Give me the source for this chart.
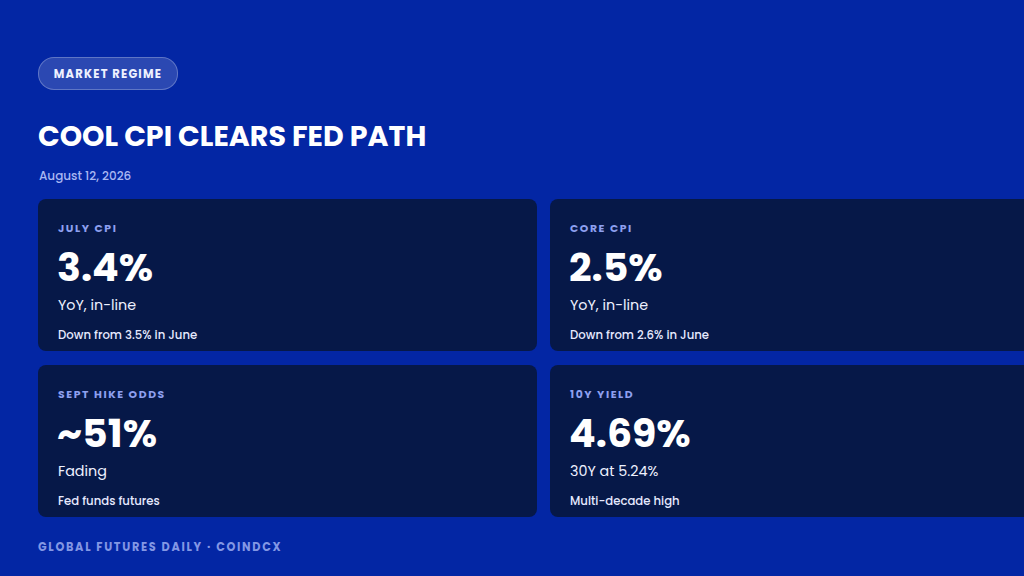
<!DOCTYPE html>
<html>
<head>
<meta charset="utf-8">
<script src="https://cdn.jsdelivr.net/npm/chart.js@4"></script>
<style>
  html, body { margin:0; padding:0; }
  body { width:1024px; height:576px; overflow:hidden; background:#0326a4; font-family: Poppins, Inter, "Noto Sans", sans-serif; color:#fff; position:relative; }
  .pill { position:absolute; left:38px; top:57px; width:138px; height:30px; border-radius:16px; background:rgba(255,255,255,0.16); border:1px solid rgba(255,255,255,0.25); display:flex; align-items:center; justify-content:center; font-size:11.5px; font-weight:700; letter-spacing:1.2px; color:#eef1ff; padding-top:1px; box-sizing:content-box; }
  .title { position:absolute; left:38px; top:118px; font-size:28.5px; font-weight:700; letter-spacing:0px; line-height:36px; white-space:nowrap; }
  .date { position:absolute; left:39px; top:167px; font-size:12px; color:#a9b7f2; font-weight:500; line-height:18px; }
  .card { position:absolute; width:499px; height:152px; background:#061848; border-radius:8px; }
  .lab { position:absolute; left:20px; top:23px; font-size:10.8px; font-weight:700; letter-spacing:1.6px; color:#8ea0f0; line-height:14px; }
  .val { position:absolute; left:19px; top:45px; font-size:39.5px; font-weight:700; line-height:48px; letter-spacing:0px; }
  .sub { position:absolute; left:20px; top:96px; font-size:14.3px; font-weight:400; line-height:20px; color:#eef1ff; }
  .note { position:absolute; left:20px; top:128px; font-size:11.7px; font-weight:500; line-height:16px; color:#e6eaff; }
  .foot { position:absolute; left:38px; top:539px; font-size:11.3px; font-weight:700; letter-spacing:1.7px; color:#8397e4; line-height:16px; }
</style>
</head>
<body>
<div class="pill" id="pill"></div>
<div class="title" id="title"></div>
<div class="date" id="date"></div>
<div id="cards"></div>
<div class="foot" id="foot"></div>
<script>
const tagText = "MARKET REGIME";
const titleText = "COOL CPI CLEARS FED PATH";
const dateText = "August 12, 2026";
const footText = "GLOBAL FUTURES DAILY · COINDCX";

const labels = ["JULY CPI", "CORE CPI", "SEPT HIKE ODDS", "10Y YIELD"];
const values = ["3.4%", "2.5%", "~51%", "4.69%"];
const subs = ["YoY, in-line", "YoY, in-line", "Fading", "30Y at 5.24%"];
const notes = ["Down from 3.5% in June", "Down from 2.6% in June", "Fed funds futures", "Multi-decade high"];

document.getElementById('pill').textContent = tagText;
document.getElementById('title').textContent = titleText;
document.getElementById('date').textContent = dateText;
document.getElementById('foot').textContent = footText;

const pos = [[38,199],[550,199],[38,365],[550,365]];
const wrap = document.getElementById('cards');
labels.forEach((l,i)=>{
  const c = document.createElement('div');
  c.className = 'card';
  c.style.left = pos[i][0]+'px';
  c.style.top = pos[i][1]+'px';
  const parts = [['lab',l],['val',values[i]],['sub',subs[i]],['note',notes[i]]];
  parts.forEach(([cls,t])=>{
    const d = document.createElement('div');
    d.className = cls; d.textContent = t; c.appendChild(d);
  });
  wrap.appendChild(c);
});
</script>
</body>
</html>
